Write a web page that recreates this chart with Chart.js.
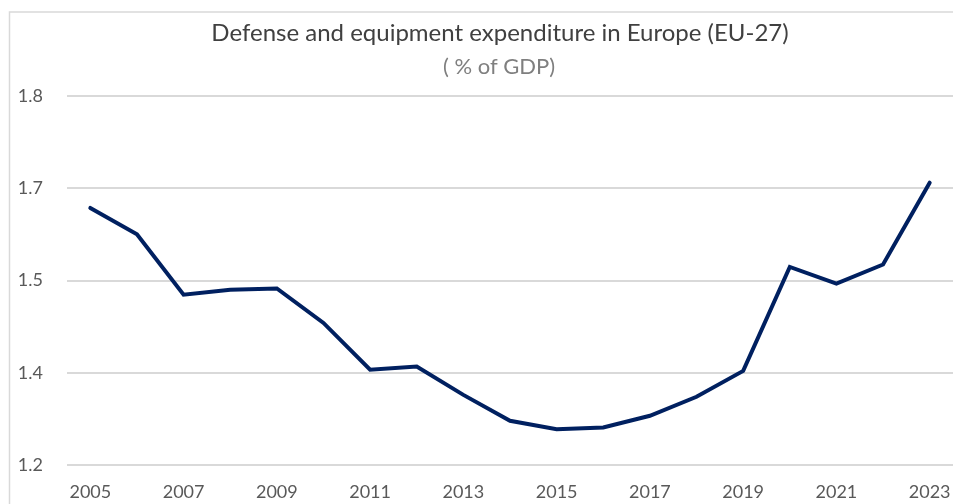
<!DOCTYPE html>
<html>
<head>
<meta charset="utf-8">
<script src="https://cdn.jsdelivr.net/npm/chart.js@4/dist/chart.umd.min.js"></script>
<style>
  html, body { margin: 0; padding: 0; background: #ffffff; overflow: hidden; }
  #wrap { position: absolute; left: 0; top: 0; width: 953px; height: 504px; }
</style>
</head>
<body>
<div id="wrap"><canvas id="c" width="953" height="504"></canvas></div>
<script>
const titleText = 'Defense and equipment expenditure in Europe (EU-27)';
const subtitleText = '( % of GDP)';
const years = ['2005','2006','2007','2008','2009','2010','2011','2012','2013','2014','2015','2016','2017','2018','2019','2020','2021','2022','2023'];
const expenditure = [1.618, 1.575, 1.477, 1.485, 1.487, 1.431, 1.355, 1.360, 1.314, 1.272, 1.258, 1.261, 1.280, 1.311, 1.353, 1.522, 1.495, 1.526, 1.659];
const yTickValues = [1.2, 1.35, 1.5, 1.65, 1.8];
const yTickLabels = ['1.2', '1.4', '1.5', '1.7', '1.8'];

const textColor = '#595959';
const fontFamily = 'Lato, "Liberation Sans", sans-serif';

const framePlugin = {
  id: 'frameAndTitle',
  beforeDraw(chart) {
    const ctx = chart.ctx;
    ctx.save();
    ctx.fillStyle = '#ffffff';
    ctx.fillRect(0, 0, chart.width, chart.height);
    ctx.strokeStyle = '#d9d9d9';
    ctx.lineWidth = 1.5;
    ctx.strokeRect(9.5, 12, chart.width + 20, chart.height + 20);
    ctx.restore();
  },
  afterDraw(chart) {
    const ctx = chart.ctx;
    ctx.save();
    ctx.textAlign = 'center';
    ctx.textBaseline = 'middle';
    ctx.fillStyle = '#404040';
    ctx.font = '400 24px ' + fontFamily;
    ctx.fillText(titleText, 500, 33);
    ctx.fillStyle = '#7f7f7f';
    ctx.font = '400 22px ' + fontFamily;
    ctx.fillText(subtitleText, 499, 67);
    ctx.restore();
  }
};

new Chart(document.getElementById('c'), {
  type: 'line',
  data: {
    labels: years,
    datasets: [{
      data: expenditure,
      borderColor: '#002060',
      backgroundColor: '#002060',
      borderWidth: 4,
      pointRadius: 0,
      tension: 0,
      borderCapStyle: 'round',
      borderJoinStyle: 'miter'
    }]
  },
  options: {
    responsive: false,
    animation: false,
    layout: { padding: { top: 96, right: 0, bottom: 0, left: 0 } },
    plugins: { legend: { display: false }, tooltip: { enabled: false }, title: { display: false } },
    scales: {
      x: {
        offset: true,
        grid: { display: false, drawTicks: false },
        border: { display: false },
        afterFit(scale) { scale.height = 39; scale.paddingLeft = 0; scale.paddingRight = 0; },
        ticks: {
          autoSkip: false,
          maxRotation: 0,
          padding: 16,
          color: textColor,
          font: { family: fontFamily, size: 18 },
          callback(value, index) { return index % 2 === 0 ? years[index] : ''; }
        }
      },
      y: {
        min: 1.2,
        max: 1.8,
        afterFit(scale) { scale.width = 67; scale.paddingTop = 0; scale.paddingBottom = 0; },
        afterBuildTicks(scale) { scale.ticks = yTickValues.map(v => ({ value: v })); },
        grid: { color: '#d9d9d9', lineWidth: 2, drawTicks: false },
        border: { display: false },
        ticks: {
          padding: 24,
          color: textColor,
          font: { family: fontFamily, size: 18 },
          callback(value) {
            const i = yTickValues.findIndex(v => Math.abs(v - value) < 1e-6);
            return i >= 0 ? yTickLabels[i] : '';
          }
        }
      }
    }
  },
  plugins: [framePlugin]
});
</script>
</body>
</html>
